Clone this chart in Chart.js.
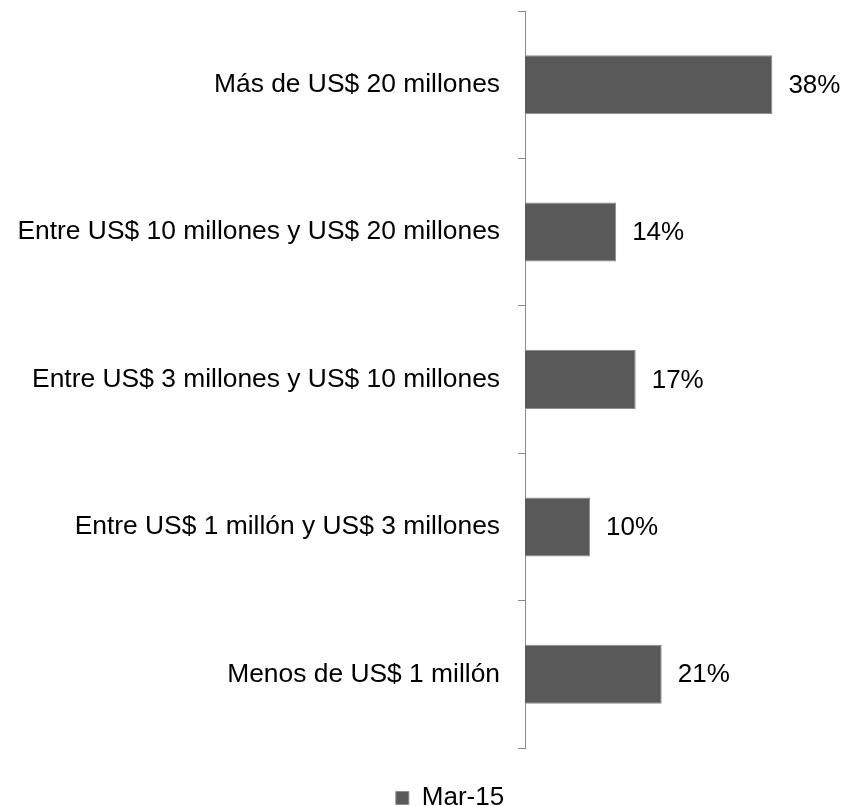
<!DOCTYPE html>
<html>
<head>
<meta charset="utf-8">
<script src="https://cdn.jsdelivr.net/npm/chart.js@4/dist/chart.umd.min.js"></script>
<style>
  html, body { margin: 0; padding: 0; background: #fff; }
  #wrap { width: 844px; height: 806px; }
</style>
</head>
<body>
<div id="wrap"><canvas id="rangeChart"></canvas></div>
<script>
const categories = [
  "Más de US$ 20 millones",
  "Entre US$ 10 millones y US$ 20 millones",
  "Entre US$ 3 millones y US$ 10 millones",
  "Entre US$ 1 millón y US$ 3 millones",
  "Menos de US$ 1 millón",
];
const seriesName = "Mar-15";
const values = [38, 14, 17, 10, 21];

// value labels to the right of each bar
const barLabels = {
  id: "barLabels",
  afterDatasetsDraw(chart) {
    const ctx = chart.ctx;
    const meta = chart.getDatasetMeta(0);
    ctx.save();
    ctx.font = "26px 'Liberation Sans', Arial, sans-serif";
    ctx.fillStyle = "#000";
    ctx.textAlign = "left";
    ctx.textBaseline = "middle";
    meta.data.forEach((bar, i) => {
      ctx.fillText(values[i] + "%", bar.x + 16, bar.y + 1);
    });
    ctx.restore();
  },
};

// nudge the legend to where it sits in the original
const legendShift = {
  id: "legendShift",
  afterLayout(chart) {
    const lg = chart.legend;
    lg.left += 28;
    lg.right += 28;
    lg.top += 15;
    lg.bottom += 15;
  },
};

const ctx = document.getElementById("rangeChart").getContext("2d");
const rangeChart = new Chart(ctx, {
  type: "bar",
  data: {
    labels: categories,
    datasets: [
      {
        label: seriesName,
        data: values,
        backgroundColor: "#595959",
        borderColor: "#8c8c8c",
        borderWidth: 1,
        barPercentage: 0.4,
        categoryPercentage: 1,
      },
    ],
  },
  options: {
    indexAxis: "y",
    responsive: true,
    maintainAspectRatio: false,
    animation: false,
    layout: { padding: { top: 11, right: 0, bottom: 0, left: 0 } },
    scales: {
      x: { display: false, min: 0, max: 49 },
      y: {
        afterFit(scale) {
          scale.width = 525;
          scale.paddingTop = 0;
          scale.paddingBottom = 0;
        },
        border: { display: true, color: "#898989", width: 1 },
        grid: {
          offset: true,
          drawOnChartArea: false,
          drawTicks: true,
          tickLength: 7,
          color: "#898989",
        },
        ticks: {
          padding: 18,
          color: "#000",
          font: { family: "'Liberation Sans', Arial, sans-serif", size: 26.4 },
        },
      },
    },
    plugins: {
      tooltip: { enabled: false },
      legend: {
        position: "bottom",
        labels: {
          boxWidth: 13,
          boxHeight: 13,
          padding: 22,
          color: "#000",
          font: { family: "'Liberation Sans', Arial, sans-serif", size: 26 },
        },
      },
    },
  },
  plugins: [barLabels, legendShift],
});
</script>
</body>
</html>
